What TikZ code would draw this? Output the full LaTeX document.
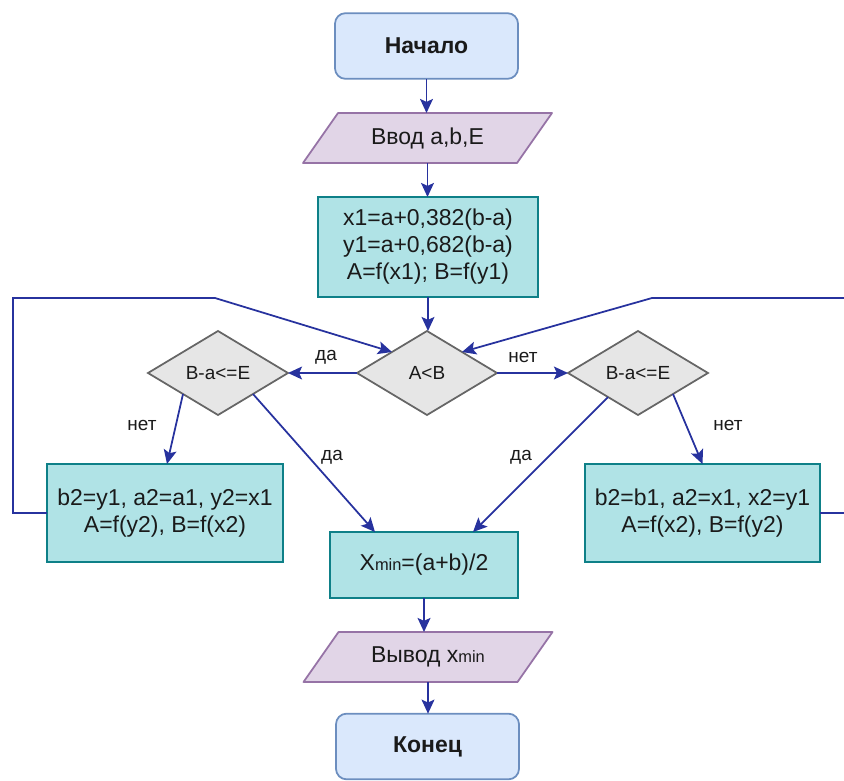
\documentclass[tikz,border=0pt]{standalone}
\usepackage{fontspec}
\setmainfont{Liberation Sans}
\usetikzlibrary{shapes.geometric,arrows.meta,calc}

\definecolor{termfill}{HTML}{DAE8FC}
\definecolor{termline}{HTML}{6C8EBF}
\definecolor{iofill}{HTML}{E1D5E7}
\definecolor{ioline}{HTML}{9673A6}
\definecolor{procfill}{HTML}{B0E3E6}
\definecolor{procline}{HTML}{0E8088}
\definecolor{decfill}{HTML}{E6E6E6}
\definecolor{decline}{HTML}{666666}
\definecolor{flowcol}{HTML}{27329E}
\definecolor{txt}{HTML}{1A1A1A}

\newcommand\mainfs{\fontsize{19.6}{23}\selectfont}
\newcommand\smallfs{\fontsize{16.2}{19}\selectfont}
\newcommand\subfs{\fontsize{14}{14}\selectfont}

\begin{document}
\begin{tikzpicture}[x=0.03cm,y=-0.03cm,
  base/.style={line width=1.5pt, outer sep=0pt, align=center, text=txt, font=\mainfs},
  terminal/.style={base, draw=termline, fill=termfill, rounded corners=9pt,
    minimum width=5.49cm, minimum height=1.97cm, font=\mainfs\bfseries},
  iobox/.style={base, minimum width=6.42cm, minimum height=1.5cm},
  iodraw/.style={line width=1.5pt, draw=ioline, fill=iofill, line join=round},
  process/.style={base, draw=procline, fill=procfill},
  decision/.style={base, diamond, draw=decline, fill=decfill, font=\smallfs,
    inner sep=2pt, shape aspect=1.67, minimum width=4.2cm, minimum height=2.52cm},
  flow/.style={draw=flowcol, line width=1.5pt,
    -{Stealth[length=12pt,width=11pt,inset=2.5pt]}},
  lbl/.style={font=\smallfs, text=txt, inner sep=0pt}
]
\useasboundingbox (0,0) rectangle (844,780);
\clip (0,0) rectangle (844,780);

% start
\node[terminal] (start) at (426.5,46) {Начало};

% input
\coordinate (inc) at (427.5,138);
\path[iodraw] ($(inc)+(-89.5,-25)$) -- ($(inc)+(124.5,-25)$)
  -- ($(inc)+(89.5,25)$) -- ($(inc)+(-124.5,25)$) -- cycle;
\node[iobox] (in) at (inc) {Ввод a,b,E};

% initial points
\node[process, minimum width=6.6cm, minimum height=3cm] (init) at (428,247)
  {x1=a+0,382(b-a)\\y1=a+0,682(b-a)\\A=f(x1); B=f(y1)};

% decisions
\node[decision] (ab) at (427,373) {A<B};
\node[decision] (ld) at (218,373) {B-a<=E};
\node[decision] (rd) at (638,373) {B-a<=E};

% interval updates
\node[process, minimum width=7.08cm, minimum height=2.94cm] (lbox) at (165,513)
  {b2=y1, a2=a1, y2=x1\\A=f(y2), B=f(x2)};
\node[process, minimum width=7.05cm, minimum height=2.94cm] (rbox) at (702.5,513)
  {b2=b1, a2=x1, x2=y1\\A=f(x2), B=f(y2)};

% result
\node[process, minimum width=5.64cm, minimum height=1.98cm] (xmin) at (424,565)
  {X{\subfs min}=(a+b)/2};

% output
\coordinate (outc) at (428,657);
\path[iodraw] ($(outc)+(-89.5,-25)$) -- ($(outc)+(124.5,-25)$)
  -- ($(outc)+(89.5,25)$) -- ($(outc)+(-124.5,25)$) -- cycle;
\node[iobox] (out) at (outc) {Вывод x{\subfs min}};

% end
\node[terminal] (end) at (427.5,746.5) {Конец};

% main vertical flow
\draw[flow] (start.south) -- (start.south |- in.north);
\draw[flow] (in.south) -- (in.south |- init.north);
\draw[flow] (init.south) -- (init.south |- ab.north);
\draw[flow] (xmin.south) -- (xmin.south |- out.north);
\draw[flow] (out.south) -- (out.south |- end.north);

% branches of A<B
\draw[flow] (ab.west) -- (ld.east);
\draw[flow] (ab.east) -- (rd.west);

% branches of the stop tests
\draw[flow] (ld.south west) -- ($(lbox.north)+(2,0)$);
\draw[flow] (ld.south east) -- ($(xmin.north)+(-49,0)$);
\draw[flow] ($(rd.south west)+(5,3)$) -- ($(xmin.north)+(49,0)$);
\draw[flow] (rd.south east) -- (rbox.north);

% loops back to the comparison
\coordinate (lc1) at (13,513);
\coordinate (lc2) at (13,298);
\coordinate (lc3) at (215,298);
\draw[flow] (lbox.west) -- (lc1) -- (lc2) -- (lc3) -- (ab.north west);
\coordinate (rc1) at (852,513);
\coordinate (rc2) at (852,298);
\coordinate (rc3) at (652,298);
\draw[flow] (rbox.east) -- (rc1) -- (rc2) -- (rc3) -- (ab.north east);

% branch labels
\node[lbl] (l1) at (326,357) {да};
\node[lbl] (l2) at (523,357) {нет};
\node[lbl] (l3) at (142,425) {нет};
\node[lbl] (l4) at (332,457) {да};
\node[lbl] (l5) at (521,457) {да};
\node[lbl] (l6) at (728,425) {нет};
\end{tikzpicture}
\end{document}
